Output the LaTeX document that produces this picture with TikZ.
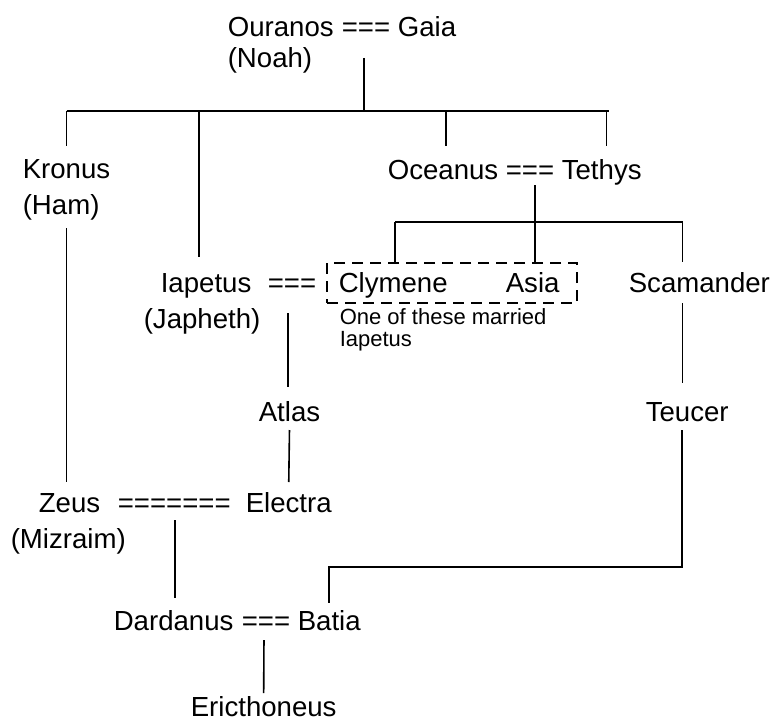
\documentclass[tikz,border=0pt]{standalone}
\usepackage{fontspec}
\setmainfont{Liberation Sans}
\usepackage{tikz}

\begin{document}
\begin{tikzpicture}[x=1pt,y=-1pt,line width=1.6pt,
    person/.style={anchor=base west,inner sep=0pt,font=\fontsize{27.6}{33}\selectfont},
    remark/.style={person,font=\fontsize{22}{26}\selectfont},
    wives/.style={draw,dash pattern=on 11pt off 7pt,minimum width=250pt,minimum height=40pt,inner sep=0pt}]
    \useasboundingbox (0,0) rectangle (783,722);

    % first generation
    \node[person] (ouranos) at (227,37) {Ouranos};
    \node[person] (eqA) at (341,37) {===};
    \node[person] (gaia) at (397,37) {Gaia};
    \node[person] (noah) at (227,68) {(Noah)};

    % their children
    \node[person] (kronus) at (22,178) {Kronus};
    \node[person] (ham) at (22,214) {(Ham)};
    \node[person] (oceanus) at (387,179) {Oceanus};
    \node[person] (eqB) at (505,179) {===};
    \node[person] (tethys) at (561,179) {Tethys};
    \node[person] (iapetus) at (160,292) {Iapetus};
    \node[person] (eqC) at (267,292) {===};
    \node[person] (japheth) at (143,328) {(Japheth)};

    % daughters of Oceanus
    \node[wives] (wives) at (452,283) {};
    \node[person] (clymene) at (338,292) {Clymene};
    \node[person] (asia) at (505,292) {Asia};
    \node[person] (scamander) at (628,292) {Scamander};
    \node[remark] (noteA) at (339,324) {One of these married};
    \node[remark] (noteB) at (339,346) {Iapetus};

    % next generations
    \node[person] (atlas) at (258,421) {Atlas};
    \node[person] (teucer) at (645,421) {Teucer};
    \node[person] (zeus) at (38,512) {Zeus};
    \node[person] (eqD) at (117,512) {=======};
    \node[person] (electra) at (245,512) {Electra};
    \node[person] (mizraim) at (10,548) {(Mizraim)};
    \node[person] (dardanus) at (113,630) {Dardanus};
    \node[person] (eqE) at (241,630) {===};
    \node[person] (batia) at (297,630) {Batia};
    \node[person] (ericthoneus) at (190,716) {Ericthoneus};

    % lines from Ouranos === Gaia
    \draw (eqA.base) ++(-2,21) -- ++(0,53);
    \draw (kronus.base) ++(0,-67) -- ++(542,0);
    \draw (kronus.base) ++(0,-67) -- ++(0,35);
    \draw (iapetus.base) ++(-7,-181) -- ++(0,146);
    \draw (oceanus.base) ++(3,-68) -- ++(0,35);
    \draw (tethys.base) ++(5,-68) -- ++(0,35);

    % lines from Oceanus === Tethys
    \draw (eqB.base) ++(5,6) -- ++(0,78);
    \draw (clymene.base) ++(2,-70) -- ++(288,0);
    \draw (clymene.base) ++(2,-70) -- ++(0,41);
    \draw (scamander.base) ++(-17,-70) -- ++(0,40);

    % down to Zeus, Electra and Teucer
    \draw (kronus.base) ++(0,50) -- ++(0,254);
    \draw (eqC.base) ++(-4,21) -- ++(0,74);
    \draw ([yshift=-9pt]atlas.base) -- ([yshift=30pt]electra.base);
    \draw (scamander.base) ++(-17,11) -- ++(0,80);

    % down to Dardanus === Batia
    \draw (eqD.base) ++(1,8) -- ++(0,78);
    \draw (teucer.base) ++(-5,9) -- ++(0,137) -| ([yshift=27pt]batia.base);
    \draw (eqE.base) ++(-2,10) -- ([yshift=23pt]ericthoneus.base);
\end{tikzpicture}
\end{document}
